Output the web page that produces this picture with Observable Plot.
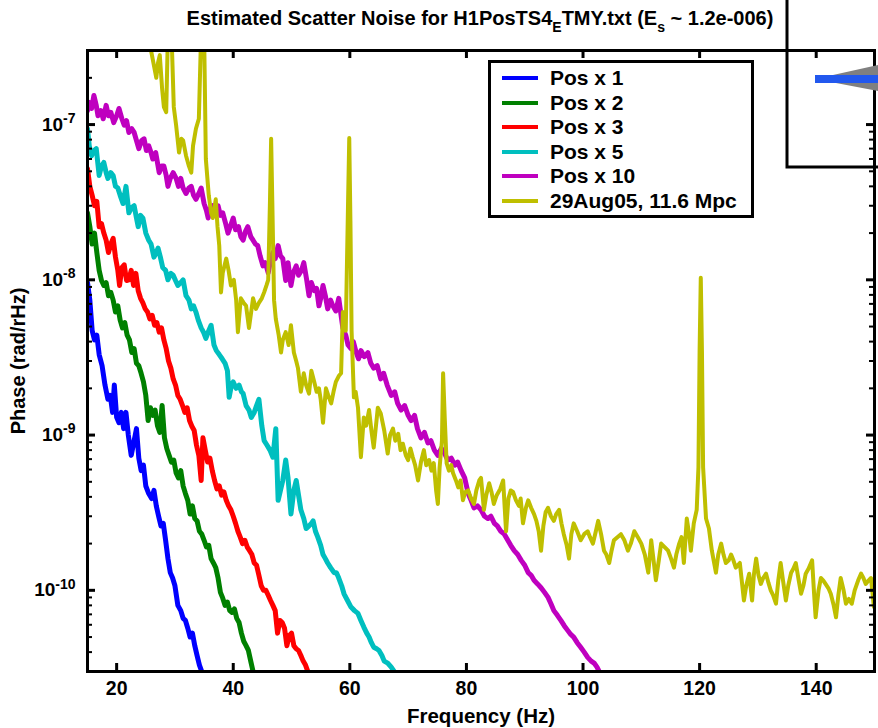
<!DOCTYPE html>
<html>
<head>
<meta charset="utf-8">
<script src="https://cdn.jsdelivr.net/npm/d3@7"></script>
<script src="https://cdn.jsdelivr.net/npm/@observablehq/plot@0.6"></script>
<style>
  body { margin: 0; background: #fff; }
  #wrap { position: relative; width: 878px; height: 728px; overflow: hidden;
          font-family: "Liberation Sans", Arial, Helvetica, sans-serif; font-weight: bold; color: #000; }
  #chart { position: absolute; left: 0; top: 0; }
  #title { position: absolute; top: 6px; left: 480px; transform: translateX(-50%);
           font-size: 20px; line-height: 24px; white-space: nowrap; }
  #title sub { font-size: 14px; vertical-align: -7px; line-height: 0; }
  #legend { position: absolute; left: 488px; top: 60px; width: 266px; height: 158px;
            border: 3px solid #000; box-sizing: border-box; background: #fff; }
  .lg-sw { position: absolute; left: 11px; width: 36px; height: 4px; }
  .lg-tx { position: absolute; left: 59px; font-size: 21px; line-height: 24px; white-space: nowrap; }
  #inset { position: absolute; left: 0; top: 0; pointer-events: none; }
</style>
</head>
<body>
<div id="wrap">
  <div id="chart"></div>
  <div id="title">Estimated Scatter Noise for H1PosTS4<sub>E</sub>TMY.txt (E<sub>s</sub> ~ 1.2e-006)</div>
  <div id="legend"></div>
  <svg id="inset" width="878" height="728">
    <polygon points="815,79 878,65 878,91" fill="#808080"></polygon>
    <rect x="815" y="75" width="63" height="8" fill="#2258ee"></rect>
    <path d="M787,0 V167 H878" fill="none" stroke="#000" stroke-width="3"></path>
  </svg>
</div>
<script>
// ---------- axis ticks ----------
const xTicks = [20, 40, 60, 80, 100, 120, 140];
const yTicks = [1e-10, 1e-9, 1e-8, 1e-7];

// ---------- series ----------
const seriesNames = ["Pos x 1", "Pos x 2", "Pos x 3", "Pos x 5", "Pos x 10", "29Aug05, 11.6 Mpc"];
const seriesColors = ["#0000ff", "#008000", "#ff0000", "#00bfbf", "#bf00bf", "#bfbf00"];

// [frequency Hz, phase rad/rHz]
const pos1 = [[15.0,9.6e-9],[15.4,7.4e-9],[15.8,4.7e-9],[16.2,4.1e-9],[16.6,4.4e-9],[17.0,3.3e-9],[17.5,2.8e-9],[18.0,2.1e-9],[18.5,1.7e-9],[18.9,1.8e-9],[19.3,1.4e-9],[19.6,2.1e-9],[20.0,1.3e-9],[20.4,1.2e-9],[20.8,1.4e-9],[21.2,1.1e-9],[21.6,1.4e-9],[22.0,1.0e-9],[22.5,7.4e-10],[23.0,9.2e-10],[23.4,1.1e-9],[23.8,7.1e-10],[24.2,5.9e-10],[24.6,6.4e-10],[25.0,4.7e-10],[25.5,4.2e-10],[26.0,3.9e-10],[26.4,4.4e-10],[26.8,3.5e-10],[27.2,3.0e-10],[27.6,2.6e-10],[28.0,2.7e-10],[28.4,2.1e-10],[28.8,1.6e-10],[29.2,1.3e-10],[29.6,1.2e-10],[30.0,1.07e-10],[30.5,8.0e-11],[31.0,7.4e-11],[31.4,6.6e-11],[31.8,6.4e-11],[32.2,5.7e-11],[32.6,5.0e-11],[33.0,5.3e-11],[33.4,4.4e-11],[33.8,3.8e-11],[34.2,3.3e-11],[34.6,3.0e-11],[35.0,2.7e-11]];

const pos2 = [[15.0,2.7e-8],[15.4,2.2e-8],[15.8,1.7e-8],[16.2,2.0e-8],[16.6,1.5e-8],[17.0,1.15e-8],[17.4,9.9e-9],[17.8,9.2e-9],[18.2,9.6e-9],[18.6,7.9e-9],[19.0,8.3e-9],[19.4,7.4e-9],[19.8,6.2e-9],[20.2,6.8e-9],[20.6,5.5e-9],[21.0,4.9e-9],[21.4,5.3e-9],[21.8,4.4e-9],[22.2,4.1e-9],[22.6,3.4e-9],[23.0,3.6e-9],[23.4,2.9e-9],[23.8,2.8e-9],[24.2,2.5e-9],[24.6,2.2e-9],[25.0,1.8e-9],[25.4,1.24e-9],[25.8,1.5e-9],[26.2,1.34e-9],[26.6,1.45e-9],[27.0,1.15e-9],[27.4,1.04e-9],[27.8,1.55e-9],[28.2,9.6e-10],[28.6,8.2e-10],[29.0,7.4e-10],[29.4,6.7e-10],[29.8,6.9e-10],[30.2,5.7e-10],[30.6,5.3e-10],[31.0,5.9e-10],[31.4,4.7e-10],[31.8,4.2e-10],[32.2,3.8e-10],[32.6,3.1e-10],[33.0,3.5e-10],[33.4,2.9e-10],[33.8,2.8e-10],[34.2,2.4e-10],[34.6,2.3e-10],[35.0,2.1e-10],[35.4,1.9e-10],[35.8,1.95e-10],[36.2,1.6e-10],[36.6,1.5e-10],[37.0,1.4e-10],[37.4,1.2e-10],[37.8,9.7e-11],[38.2,8.9e-11],[38.6,8.0e-11],[39.0,8.4e-11],[39.4,7.4e-11],[39.8,7.2e-11],[40.2,7.6e-11],[40.6,6.6e-11],[41.0,6.2e-11],[41.4,5.3e-11],[41.8,4.7e-11],[42.2,4.4e-11],[42.6,4.1e-11],[43.0,3.5e-11],[43.4,3.0e-11],[43.8,2.6e-11]];

const pos3 = [[15.0,5.2e-8],[15.4,4.0e-8],[15.8,3.5e-8],[16.2,3.0e-8],[16.6,3.2e-8],[17.0,2.2e-8],[17.4,2.3e-8],[17.8,2.0e-8],[18.2,1.8e-8],[18.6,1.5e-8],[19.0,1.7e-8],[19.4,1.85e-8],[19.8,1.4e-8],[20.2,1.15e-8],[20.5,9.2e-9],[20.9,1.2e-8],[21.3,1.25e-8],[21.7,9.9e-9],[22.1,1.0e-8],[22.5,1.15e-8],[22.9,9.2e-9],[23.3,1.1e-8],[23.7,8.5e-9],[24.1,7.6e-9],[24.5,7.1e-9],[24.9,6.5e-9],[25.3,6.2e-9],[25.7,5.6e-9],[26.1,5.9e-9],[26.5,5.1e-9],[26.9,5.3e-9],[27.3,4.6e-9],[27.7,4.9e-9],[28.1,4.1e-9],[28.5,3.6e-9],[28.9,3.0e-9],[29.3,2.7e-9],[29.7,2.3e-9],[30.1,2.1e-9],[30.5,1.8e-9],[30.9,1.7e-9],[31.3,1.55e-9],[31.7,1.4e-9],[32.1,1.5e-9],[32.5,1.24e-9],[32.9,1.14e-9],[33.3,1.07e-9],[33.7,8.6e-10],[34.1,7.4e-10],[34.5,5.1e-10],[34.8,9.6e-10],[35.2,8.0e-10],[35.6,6.7e-10],[36.0,7.1e-10],[36.4,5.9e-10],[36.8,5.1e-10],[37.2,4.5e-10],[37.6,4.7e-10],[38.0,4.1e-10],[38.4,4.3e-10],[38.8,3.8e-10],[39.2,3.5e-10],[39.6,3.3e-10],[40.0,3.0e-10],[40.4,2.7e-10],[40.8,2.4e-10],[41.2,2.2e-10],[41.6,2.0e-10],[42.0,2.1e-10],[42.4,1.9e-10],[42.8,1.8e-10],[43.2,1.7e-10],[43.6,1.5e-10],[44.0,1.45e-10],[44.4,1.25e-10],[44.8,1.07e-10],[45.2,1.0e-10],[45.6,1.0e-10],[46.0,9.3e-11],[46.4,8.6e-11],[46.8,8.0e-11],[47.2,7.4e-11],[47.6,5.3e-11],[48.0,6.4e-11],[48.4,6.2e-11],[48.8,5.7e-11],[49.2,4.4e-11],[49.6,5.1e-11],[50.0,5.3e-11],[50.4,4.4e-11],[50.8,4.2e-11],[51.2,4.1e-11],[51.6,3.8e-11],[52.0,3.5e-11],[52.4,3.3e-11],[52.8,3.0e-11],[53.2,2.6e-11]];

const pos5 = [[15.0,9.4e-8],[15.3,7.3e-8],[15.7,6.3e-8],[16.1,6.8e-8],[16.5,7.0e-8],[17.0,4.7e-8],[17.4,5.4e-8],[17.8,5.7e-8],[18.2,4.9e-8],[18.5,4.5e-8],[19.0,4.9e-8],[19.4,4.7e-8],[19.8,4.0e-8],[20.2,3.9e-8],[20.6,3.5e-8],[21.1,3.1e-8],[21.6,4.0e-8],[22.1,2.7e-8],[22.5,2.9e-8],[23.0,3.0e-8],[23.4,2.5e-8],[23.7,2.2e-8],[24.1,2.6e-8],[24.5,2.5e-8],[25.0,2.0e-8],[25.5,1.8e-8],[25.9,1.7e-8],[26.4,1.4e-8],[26.8,1.5e-8],[27.1,1.6e-8],[27.5,1.4e-8],[27.9,1.2e-8],[28.4,1.15e-8],[28.8,1.0e-8],[29.3,1.1e-8],[29.7,1.07e-8],[30.1,9.9e-9],[30.5,9.2e-9],[31.0,9.6e-9],[31.4,1.0e-8],[31.9,7.9e-9],[32.4,7.4e-9],[32.8,6.5e-9],[33.2,6.8e-9],[33.6,6.2e-9],[34.0,5.5e-9],[34.5,4.9e-9],[34.9,4.6e-9],[35.3,4.2e-9],[35.8,4.7e-9],[36.2,5.1e-9],[36.7,3.8e-9],[37.1,3.5e-9],[37.6,3.3e-9],[38.1,3.1e-9],[38.6,2.9e-9],[39.0,2.6e-9],[39.3,1.75e-9],[39.7,2.1e-9],[40.0,2.2e-9],[40.5,2.0e-9],[41.0,2.1e-9],[41.4,1.9e-9],[41.7,1.85e-9],[42.2,1.55e-9],[42.7,1.45e-9],[43.1,1.3e-9],[43.6,1.4e-9],[44.0,1.55e-9],[44.4,1.7e-9],[44.9,1.15e-9],[45.3,9.2e-10],[45.8,8.6e-10],[46.3,8.0e-10],[46.8,7.2e-10],[47.3,1.1e-9],[47.7,3.8e-10],[48.1,4.4e-10],[48.5,5.1e-10],[49.0,6.9e-10],[49.4,5.3e-10],[49.9,3.1e-10],[50.4,4.4e-10],[50.8,5.1e-10],[51.2,4.1e-10],[51.6,3.3e-10],[52.1,2.9e-10],[52.5,2.5e-10],[53.0,2.6e-10],[53.4,2.7e-10],[53.7,2.8e-10],[54.1,2.4e-10],[54.5,2.2e-10],[55.0,1.95e-10],[55.4,1.7e-10],[55.8,1.6e-10],[56.2,1.5e-10],[56.7,1.4e-10],[57.3,1.3e-10],[57.7,1.3e-10],[58.1,1.2e-10],[58.6,1.07e-10],[59.0,9.5e-11],[59.6,8.6e-11],[60.2,7.8e-11],[60.8,7.4e-11],[61.4,7.1e-11],[61.9,6.4e-11],[62.4,5.8e-11],[62.9,5.3e-11],[63.3,5.0e-11],[63.7,4.6e-11],[64.1,4.3e-11],[64.6,4.2e-11],[65.0,4.1e-11],[65.5,3.8e-11],[65.9,3.5e-11],[66.5,3.4e-11],[67.1,3.2e-11],[67.6,3.0e-11],[68.0,2.6e-11]];

const pos10 = [[15.0,1.23e-7],[15.3,1.39e-7],[15.7,1.27e-7],[16.1,1.54e-7],[16.5,1.33e-7],[16.8,1.14e-7],[17.3,1.23e-7],[17.7,1.09e-7],[18.2,1.33e-7],[18.6,1.14e-7],[19.0,1.2e-7],[19.5,1.03e-7],[20.0,1.14e-7],[20.4,1.27e-7],[20.9,1.09e-7],[21.3,9.9e-8],[21.7,1.06e-7],[22.1,8.9e-8],[22.6,9.4e-8],[23.0,8.9e-8],[23.4,7.9e-8],[23.8,7.0e-8],[24.3,7.9e-8],[24.7,8.1e-8],[25.1,6.8e-8],[25.5,7.3e-8],[25.9,6.6e-8],[26.2,6.0e-8],[26.7,6.6e-8],[27.0,5.7e-8],[27.3,4.9e-8],[27.7,5.4e-8],[28.1,5.4e-8],[28.5,4.7e-8],[28.8,4.0e-8],[29.2,4.5e-8],[29.7,4.9e-8],[30.2,4.5e-8],[30.6,4.0e-8],[31.0,4.5e-8],[31.4,3.9e-8],[31.9,3.6e-8],[32.4,3.9e-8],[32.8,4.0e-8],[33.2,3.5e-8],[33.6,3.3e-8],[34.1,3.6e-8],[34.5,3.9e-8],[35.0,3.1e-8],[35.4,2.8e-8],[35.7,2.5e-8],[36.1,2.9e-8],[36.5,3.0e-8],[37.0,2.8e-8],[37.4,3.0e-8],[37.8,2.6e-8],[38.2,2.7e-8],[38.7,2.3e-8],[39.1,2.0e-8],[39.5,2.2e-8],[40.0,2.5e-8],[40.4,2.1e-8],[40.9,2.2e-8],[41.3,1.9e-8],[41.7,1.8e-8],[42.1,2.05e-8],[42.5,2.2e-8],[43.0,1.9e-8],[43.4,1.8e-8],[43.8,1.7e-8],[44.2,1.66e-8],[44.6,1.43e-8],[45.1,1.23e-8],[45.5,1.29e-8],[46.0,1.11e-8],[46.4,1.33e-8],[46.8,1.5e-8],[47.2,1.37e-8],[47.7,1.66e-8],[48.1,1.43e-8],[48.5,1.37e-8],[49.0,9.9e-9],[49.4,1.29e-8],[49.9,9.2e-9],[50.3,1.11e-8],[50.8,1.23e-8],[51.2,1.07e-8],[51.7,1.15e-8],[52.1,1.29e-8],[52.6,1.0e-8],[53.0,7.9e-9],[53.4,9.6e-9],[53.9,8.5e-9],[54.3,8.8e-9],[54.7,6.8e-9],[55.0,7.6e-9],[55.4,9.2e-9],[55.8,7.9e-9],[56.2,6.5e-9],[56.7,7.4e-9],[57.1,6.8e-9],[57.6,6.3e-9],[58.1,7.6e-9],[58.5,5.9e-9],[58.8,4.9e-9],[59.3,4.4e-9],[59.7,3.8e-9],[60.2,3.6e-9],[60.6,4.0e-9],[61.1,3.4e-9],[61.5,3.1e-9],[61.9,3.5e-9],[62.5,3.2e-9],[63.1,3.4e-9],[63.6,2.9e-9],[64.1,2.7e-9],[64.7,2.8e-9],[65.3,2.3e-9],[65.8,2.5e-9],[66.4,2.1e-9],[67.1,1.8e-9],[67.7,1.9e-9],[68.2,1.6e-9],[68.8,1.45e-9],[69.4,1.55e-9],[70.0,1.34e-9],[70.5,1.24e-9],[71.1,1.34e-9],[71.6,1.1e-9],[72.2,9.6e-10],[72.8,1.04e-9],[73.4,8.9e-10],[73.9,9.2e-10],[74.5,8.0e-10],[75.1,7.4e-10],[75.7,8.2e-10],[76.2,7.7e-10],[76.8,6.9e-10],[77.4,7.1e-10],[78.0,6.4e-10],[78.5,6.7e-10],[79.1,5.9e-10],[79.7,5.3e-10],[80.3,4.2e-10],[80.8,3.8e-10],[81.3,3.4e-10],[81.9,3.5e-10],[82.5,3.3e-10],[83.1,3.0e-10],[83.7,2.9e-10],[84.2,3.0e-10],[84.8,2.7e-10],[85.3,2.6e-10],[85.9,2.4e-10],[86.5,2.3e-10],[87.1,2.1e-10],[87.6,1.95e-10],[88.2,1.8e-10],[88.8,1.7e-10],[89.4,1.56e-10],[90.0,1.45e-10],[90.6,1.3e-10],[91.1,1.25e-10],[91.6,1.16e-10],[92.2,1.1e-10],[92.8,1.04e-10],[93.4,9.7e-11],[94.0,9.0e-11],[94.5,8.2e-11],[95.0,7.4e-11],[95.6,6.9e-11],[96.2,6.4e-11],[96.8,5.9e-11],[97.4,5.5e-11],[97.9,5.2e-11],[98.4,5.0e-11],[99.0,4.6e-11],[99.6,4.3e-11],[100.2,4.0e-11],[100.8,3.7e-11],[101.4,3.5e-11],[101.9,3.4e-11],[102.4,3.2e-11],[102.7,3.04e-11],[103.2,2.6e-11]];

const aug29 = [[25.5,4.0e-7],[25.9,3.0e-7],[26.4,2.4e-7],[26.8,2.0e-7],[27.1,2.5e-7],[27.4,2.8e-7],[27.8,1.7e-7],[28.1,1.3e-7],[28.5,1.2e-7],[28.8,4.0e-7],[29.4,4.0e-7],[29.8,1.3e-7],[30.2,9.9e-8],[30.7,6.6e-8],[31.1,8.1e-8],[31.4,7.9e-8],[31.9,6.3e-8],[32.4,5.4e-8],[32.8,4.9e-8],[33.1,7.3e-8],[33.6,9.4e-8],[34.1,1.09e-7],[34.5,4.0e-7],[35.0,4.0e-7],[35.3,6.0e-8],[35.8,3.5e-8],[36.2,2.7e-8],[36.5,2.5e-8],[37.0,3.3e-8],[37.3,2.2e-8],[37.6,1.66e-8],[37.9,8.3e-9],[38.2,1.11e-8],[38.8,1.37e-8],[39.2,1.15e-8],[39.6,9.2e-9],[40.1,1.0e-8],[40.5,7.4e-9],[40.8,4.6e-9],[41.3,7.6e-9],[41.8,7.1e-9],[42.2,6.8e-9],[42.7,4.9e-9],[43.4,7.6e-9],[43.9,6.5e-9],[44.4,7.1e-9],[44.9,7.6e-9],[45.3,8.3e-9],[45.7,9.2e-9],[46.0,1.0e-8],[46.3,3.2e-8],[46.5,8.1e-8],[46.7,3.2e-8],[47.0,7.4e-9],[47.3,5.6e-9],[47.8,4.4e-9],[48.2,3.4e-9],[48.5,4.1e-9],[49.0,4.6e-9],[49.5,3.8e-9],[49.9,5.1e-9],[50.4,3.4e-9],[50.8,3.0e-9],[51.1,2.7e-9],[51.6,1.9e-9],[52.1,2.5e-9],[52.5,2.1e-9],[53.0,1.85e-9],[53.4,2.6e-9],[53.9,2.2e-9],[54.3,1.9e-9],[54.7,2.0e-9],[55.0,1.7e-9],[55.4,1.2e-9],[55.9,2.0e-9],[56.3,1.8e-9],[56.8,1.6e-9],[57.2,1.9e-9],[57.6,2.2e-9],[58.1,2.4e-9],[58.5,2.5e-9],[58.8,6.2e-9],[59.3,4.7e-9],[59.7,3.2e-8],[59.9,8.2e-8],[60.1,2.4e-8],[60.3,4.7e-9],[60.7,1.75e-9],[61.0,1.9e-9],[61.4,1.5e-9],[61.9,7.2e-10],[62.4,1.3e-9],[62.8,1.15e-9],[63.3,1.45e-9],[63.7,1.07e-9],[64.1,8.3e-10],[64.8,1.5e-9],[65.3,1.38e-9],[65.9,1.07e-9],[66.5,7.6e-10],[66.9,1.0e-9],[67.4,1.1e-9],[67.8,9.2e-10],[68.3,1.02e-9],[68.7,8.0e-10],[69.1,8.8e-10],[69.6,7.4e-10],[70.0,6.9e-10],[70.4,8.2e-10],[70.8,7.2e-10],[71.2,6.4e-10],[71.7,5.1e-10],[72.2,6.7e-10],[72.7,8.0e-10],[73.1,6.4e-10],[73.6,6.9e-10],[74.0,5.9e-10],[74.4,6.6e-10],[74.8,4.4e-10],[75.1,3.6e-10],[75.4,6.2e-10],[75.8,9.2e-10],[76.0,2.5e-9],[76.3,1.24e-9],[76.6,6.6e-10],[77.0,5.9e-10],[77.4,6.4e-10],[77.7,5.7e-10],[78.2,5.1e-10],[78.6,4.6e-10],[79.0,5.1e-10],[79.4,3.8e-10],[79.8,4.3e-10],[80.3,4.4e-10],[80.8,3.9e-10],[81.3,3.6e-10],[81.7,4.4e-10],[82.2,5.1e-10],[82.5,5.3e-10],[83.0,3.3e-10],[83.4,4.1e-10],[83.9,4.9e-10],[84.3,4.3e-10],[84.7,3.6e-10],[85.2,4.1e-10],[85.8,4.5e-10],[86.3,5.1e-10],[86.8,2.4e-10],[87.2,3.9e-10],[87.6,4.4e-10],[88.0,4.3e-10],[88.5,3.8e-10],[89.0,3.5e-10],[89.3,3.9e-10],[89.7,2.7e-10],[90.2,3.4e-10],[90.6,3.8e-10],[91.1,3.4e-10],[91.6,3.1e-10],[92.0,2.8e-10],[92.4,2.4e-10],[92.8,1.8e-10],[93.2,2.6e-10],[93.6,3.2e-10],[94.0,3.4e-10],[94.5,3.0e-10],[95.0,2.8e-10],[95.4,3.1e-10],[95.9,3.3e-10],[96.3,2.7e-10],[96.7,2.3e-10],[97.2,1.95e-10],[97.6,1.6e-10],[98.0,2.3e-10],[98.4,2.7e-10],[99.0,2.4e-10],[99.6,2.1e-10],[100.2,2.3e-10],[100.8,2.4e-10],[101.2,2.2e-10],[101.7,2.0e-10],[102.2,2.4e-10],[102.6,2.8e-10],[103.1,2.3e-10],[103.6,1.8e-10],[104.0,1.7e-10],[104.5,1.5e-10],[104.9,1.8e-10],[105.3,2.1e-10],[105.9,2.2e-10],[106.5,2.3e-10],[107.1,2.1e-10],[107.7,1.8e-10],[108.2,2.0e-10],[108.8,2.4e-10],[109.4,2.2e-10],[110.0,2.0e-10],[110.6,1.7e-10],[111.2,1.3e-10],[111.7,2.1e-10],[112.1,1.56e-10],[112.5,1.16e-10],[113.0,1.56e-10],[113.4,2.0e-10],[114.0,1.9e-10],[114.6,1.8e-10],[115.1,1.6e-10],[115.6,1.4e-10],[116.0,1.7e-10],[116.5,2.0e-10],[116.9,2.2e-10],[117.3,1.5e-10],[117.8,2.9e-10],[118.2,2.3e-10],[118.5,1.8e-10],[119.0,2.7e-10],[119.5,3.3e-10],[119.8,6.2e-10],[120.0,3.5e-9],[120.2,1.03e-8],[120.4,3.5e-9],[120.6,6.2e-10],[121.1,2.9e-10],[121.6,2.5e-10],[122.1,1.8e-10],[122.8,1.3e-10],[123.2,1.7e-10],[123.7,2.0e-10],[124.1,1.7e-10],[124.5,1.5e-10],[125.0,1.56e-10],[125.4,1.7e-10],[125.8,1.56e-10],[126.2,1.4e-10],[126.9,1.5e-10],[127.6,8.6e-11],[128.0,1.07e-10],[128.5,1.28e-10],[129.0,8.6e-11],[129.3,1.25e-10],[129.7,1.6e-10],[130.1,1.25e-10],[130.5,1.1e-10],[130.9,1.2e-10],[131.4,1.28e-10],[131.8,1.12e-10],[132.2,1.0e-10],[132.6,9.3e-11],[133.1,8.2e-11],[133.5,1.16e-10],[133.9,1.5e-10],[134.3,1.16e-10],[134.8,8.6e-11],[135.2,1.07e-10],[135.7,1.3e-10],[136.1,1.38e-10],[136.5,1.5e-10],[137.0,1.16e-10],[137.4,9.5e-11],[137.8,1.07e-10],[138.2,1.28e-10],[138.7,1.38e-10],[139.3,1.56e-10],[139.6,1.0e-10],[139.9,6.7e-11],[140.4,1.0e-10],[140.8,1.2e-10],[141.2,1.16e-10],[141.6,1.1e-10],[142.1,1.03e-10],[142.5,9.5e-11],[143.0,8.0e-11],[143.4,6.7e-11],[143.8,9.3e-11],[144.2,1.2e-10],[144.7,1.0e-10],[145.1,8.2e-11],[145.6,8.8e-11],[146.1,8.2e-11],[146.6,1.0e-10],[147.2,1.16e-10],[147.7,1.28e-10],[148.1,1.2e-10],[148.5,1.1e-10],[149.0,1.16e-10],[149.4,1.2e-10],[149.9,7.8e-11],[150.0,8.6e-11]];

const seriesData = [pos1, pos2, pos3, pos5, pos10, aug29];

// ---------- build table ----------
const rows = seriesData.flatMap((s, i) => s.map(([f, v]) => ({f, v, name: seriesNames[i]})));
const posRows = rows.filter(d => d.name !== seriesNames[5]);
const augRows = rows.filter(d => d.name === seriesNames[5]);
const yMinor = [];
for (let e = -11; e <= -7; e++) for (let m = 2; m <= 9; m++) {
  const v = m * Math.pow(10, e);
  if (v > 3.01e-11 && v < 2.99e-7) yMinor.push(v);
}

const W = 878, H = 728, mT = 50, mB = 57, mL = 87, mR = 4;
const fw = W - mL - mR, fh = H - mT - mB;
const font = '"Liberation Sans", Arial, Helvetica, sans-serif';

const chart = Plot.plot({
  width: W, height: H,
  marginTop: mT, marginBottom: mB, marginLeft: mL, marginRight: mR,
  x: {domain: [15, 150]},
  y: {type: "log", domain: [3e-11, 3e-7]},
  color: {domain: seriesNames, range: seriesColors},
  style: {fontFamily: font, fontWeight: "bold", fontSize: "20px", background: "transparent", color: "#000", overflow: "visible"},
  marks: [
    Plot.line(posRows, {x: "f", y: "v", stroke: "name", z: "name", strokeWidth: 5, strokeLinejoin: "round", clip: true}),
    Plot.line(augRows, {x: "f", y: "v", stroke: "name", z: "name", strokeWidth: 4, strokeLinejoin: "round", clip: true}),
    Plot.ruleX(xTicks, {x: d => d, insetTop: fh - 8, strokeWidth: 3}),
    Plot.ruleX(xTicks, {x: d => d, insetBottom: fh - 8, strokeWidth: 3}),
    Plot.ruleY(yTicks, {y: d => d, insetRight: fw - 8, strokeWidth: 3}),
    Plot.ruleY(yTicks, {y: d => d, insetLeft: fw - 8, strokeWidth: 3}),
    Plot.ruleY(yMinor, {y: d => d, insetRight: fw - 5, strokeWidth: 2}),
    Plot.ruleY(yMinor, {y: d => d, insetLeft: fw - 5, strokeWidth: 2}),
    Plot.frame({stroke: "#000", strokeWidth: 3}),
    Plot.axisX(xTicks, {tickSize: 0, tickPadding: 10, label: null, fontSize: 19.5}),
    Plot.axisY(yTicks, {tickSize: 0, tickPadding: 12, label: null, fontSize: 19,
      tickFormat: d => String(Math.round(Math.log10(d)))}),
    Plot.text(["Phase (rad/rHz)"], {text: d => d, frameAnchor: "left", dx: -69, rotate: -90,
      textAnchor: "middle", lineAnchor: "middle", fontSize: 20}),
    Plot.text(["Frequency (Hz)"], {text: d => d, frameAnchor: "bottom", dy: 45,
      textAnchor: "middle", lineAnchor: "middle", fontSize: 20.5})
  ]
});
document.getElementById("chart").append(chart);

// superscript exponents on y tick labels: 10^n
d3.select(chart).selectAll('g[aria-label="y-axis tick label"] text').each(function() {
  const exp = this.textContent;
  const t = d3.select(this);
  t.text(null);
  t.append("tspan").text("10");
  t.append("tspan").attr("dy", "-0.55em").attr("font-size", "14px").text(exp);
});

// legend
const lg = d3.select("#legend");
seriesNames.forEach((n, i) => {
  const cy = 15 + i * 24.6;
  lg.append("div").attr("class", "lg-sw").style("top", (cy - 2) + "px").style("background", seriesColors[i]);
  lg.append("div").attr("class", "lg-tx").style("top", (cy - 12) + "px").text(n);
});
</script>
</body>
</html>
